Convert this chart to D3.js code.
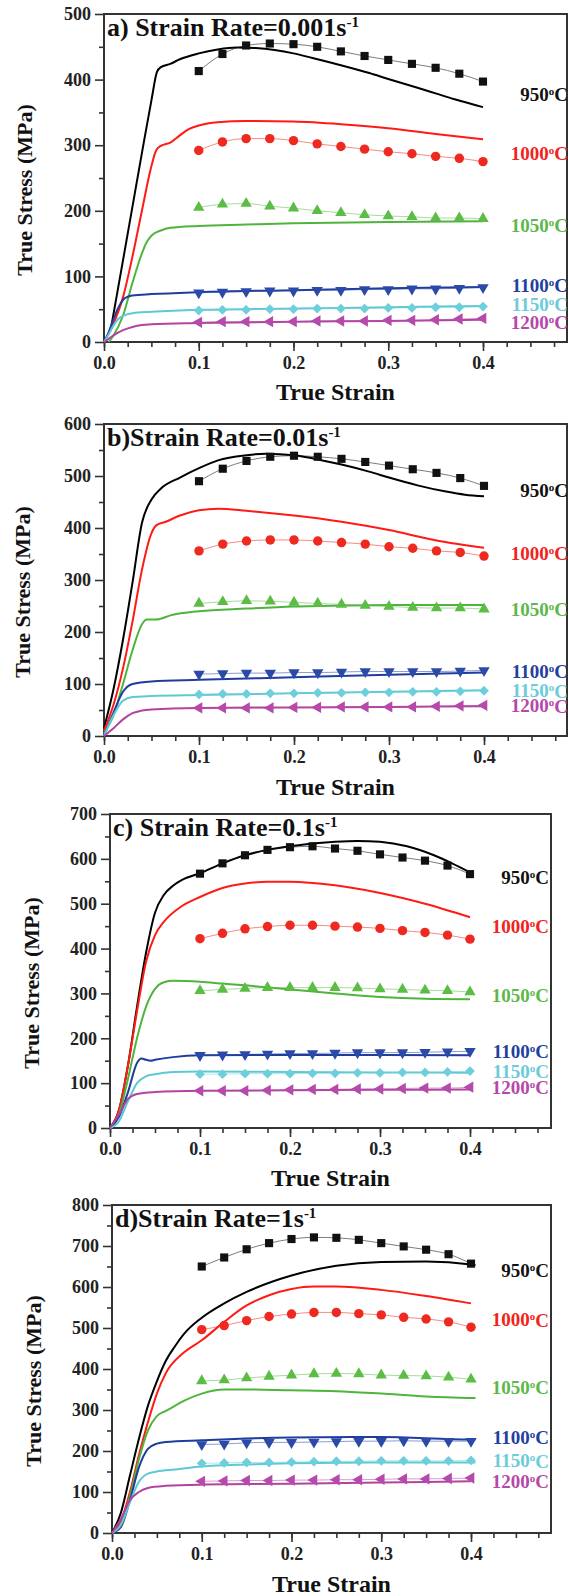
<!DOCTYPE html>
<html>
<head>
<meta charset="utf-8">
<script src="https://cdn.jsdelivr.net/npm/d3@7"></script>
<style>
  body { margin: 0; background: #fff; }
  svg { display: block; }
  text { font-family: "Liberation Serif", "Times New Roman", serif; font-weight: bold; }
</style>
</head>
<body>
<svg width="568" height="1596"></svg>
<script>
const temps = ["950", "1000", "1050", "1100", "1150", "1200"];
const lineColors = ["#000000", "#ff1a14", "#4fb43c", "#1f3d9e", "#5ec9d6", "#b2449f"];
const markColors = ["#111111", "#ee2a20", "#5cbd45", "#2b4aa8", "#6dcfdb", "#b54aaa"];
const labelColors = ["#111111", "#f0241c", "#5cb84a", "#233f9e", "#6ccbd8", "#b548a8"];
const rates = ["0.001", "0.01", "0.1", "1"];

// experimental strains
const expStrain = [0.1, 0.125, 0.15, 0.175, 0.2, 0.225, 0.25, 0.275, 0.3, 0.325, 0.35, 0.375, 0.4];

// a) 0.001 s-1
const expA = [
  [413, 439, 452, 455, 454, 450, 443, 436, 430, 424, 418, 409, 397],
  [292, 305, 310, 310, 307, 302, 298, 294, 290, 287, 283, 280, 275],
  [205, 210, 211, 207, 204, 200, 197, 194, 192, 191, 189, 189, 188],
  [75, 76, 77, 78, 78, 79, 79, 80, 80, 81, 81, 82, 83],
  [48, 49, 49, 50, 50, 51, 51, 51, 52, 52, 53, 53, 54],
  [30, 31, 31, 31, 31, 32, 32, 32, 33, 33, 34, 35, 36]
];
const simA = [
  [[0.008, 26], [0.02, 124], [0.03, 206], [0.04, 288], [0.05, 368], [0.056, 412], [0.06, 419], [0.07, 424], [0.08, 431], [0.1, 440], [0.12, 446], [0.14, 449], [0.16, 448], [0.18, 445], [0.2, 440], [0.22, 433], [0.25, 422], [0.28, 410], [0.3, 401], [0.33, 388], [0.35, 379], [0.37, 370], [0.4, 358]],
  [[0, 0], [0.01, 28], [0.02, 68], [0.03, 130], [0.04, 200], [0.05, 268], [0.055, 292], [0.06, 299], [0.07, 304], [0.08, 315], [0.09, 325], [0.1, 330], [0.12, 335], [0.15, 337], [0.2, 336], [0.25, 332], [0.3, 326], [0.35, 317], [0.4, 309]],
  [[0.005, 0], [0.01, 10], [0.02, 40], [0.03, 90], [0.04, 135], [0.045, 152], [0.05, 162], [0.06, 170], [0.07, 174], [0.1, 177], [0.15, 179], [0.2, 181], [0.3, 183], [0.4, 184]],
  [[0, 0], [0.005, 15], [0.01, 35], [0.015, 52], [0.02, 64], [0.025, 69], [0.03, 71], [0.05, 73], [0.1, 76], [0.2, 79], [0.3, 82], [0.4, 84]],
  [[0, 0], [0.005, 12], [0.01, 25], [0.015, 35], [0.02, 40], [0.03, 44], [0.05, 46], [0.1, 49], [0.2, 51], [0.3, 53], [0.4, 55]],
  [[0, 0], [0.005, 5], [0.01, 10], [0.02, 18], [0.03, 23], [0.04, 26], [0.05, 27], [0.1, 29], [0.2, 31], [0.3, 32], [0.4, 34]]
];

// b) 0.01 s-1
const expB = [
  [490, 514, 529, 537, 539, 537, 533, 527, 520, 513, 506, 496, 481],
  [356, 369, 375, 377, 377, 375, 372, 369, 364, 361, 356, 353, 346],
  [255, 258, 260, 259, 257, 255, 253, 251, 249, 247, 246, 246, 244],
  [119, 120, 121, 121, 122, 122, 123, 124, 124, 124, 124, 125, 126],
  [80, 81, 81, 82, 82, 83, 83, 84, 84, 85, 85, 86, 87],
  [54, 54, 54, 54, 55, 55, 56, 56, 56, 56, 57, 58, 59]
];
const simB = [
  [[0, 15], [0.01, 90], [0.02, 185], [0.03, 295], [0.04, 410], [0.05, 455], [0.06, 476], [0.08, 497], [0.1, 515], [0.12, 530], [0.15, 540], [0.17, 543], [0.2, 540], [0.23, 530], [0.25, 522], [0.28, 508], [0.3, 497], [0.33, 482], [0.36, 470], [0.38, 464], [0.4, 461]],
  [[0, 10], [0.01, 60], [0.02, 130], [0.03, 220], [0.04, 320], [0.05, 390], [0.055, 405], [0.065, 412], [0.08, 424], [0.1, 434], [0.12, 437], [0.15, 433], [0.2, 424], [0.25, 412], [0.3, 396], [0.35, 376], [0.4, 362]],
  [[0, 5], [0.01, 40], [0.02, 100], [0.03, 165], [0.04, 215], [0.045, 224], [0.055, 224], [0.07, 232], [0.1, 240], [0.15, 245], [0.2, 249], [0.25, 251], [0.3, 252], [0.4, 252]],
  [[0, 0], [0.01, 45], [0.02, 85], [0.03, 100], [0.05, 105], [0.1, 108], [0.2, 113], [0.3, 118], [0.4, 122]],
  [[0, 0], [0.01, 40], [0.02, 68], [0.03, 75], [0.05, 77], [0.1, 79], [0.2, 82], [0.3, 85], [0.4, 88]],
  [[0, 0], [0.01, 15], [0.02, 32], [0.03, 44], [0.04, 49], [0.05, 51], [0.1, 54], [0.2, 55], [0.3, 56], [0.4, 57]]
];

// c) 0.1 s-1
const expC = [
  [567, 590, 608, 620, 626, 628, 623, 618, 610, 603, 596, 585, 566],
  [422, 434, 444, 449, 452, 452, 450, 448, 445, 440, 436, 430, 421],
  [306, 309, 311, 313, 313, 313, 313, 312, 310, 309, 307, 306, 303],
  [162, 163, 164, 165, 166, 166, 167, 168, 168, 168, 169, 170, 171],
  [120, 120, 121, 121, 121, 122, 122, 123, 123, 124, 124, 125, 127],
  [83, 83, 83, 84, 85, 86, 86, 87, 87, 88, 89, 89, 91]
];
const simC = [
  [[0, 0], [0.01, 40], [0.02, 140], [0.03, 270], [0.04, 390], [0.05, 480], [0.06, 520], [0.07, 540], [0.08, 553], [0.1, 568], [0.125, 590], [0.15, 608], [0.175, 620], [0.2, 628], [0.25, 638], [0.275, 640], [0.3, 638], [0.33, 628], [0.36, 608], [0.38, 590], [0.4, 570]],
  [[0, 0], [0.01, 40], [0.02, 140], [0.03, 260], [0.04, 370], [0.05, 430], [0.06, 460], [0.08, 495], [0.1, 515], [0.125, 535], [0.15, 545], [0.175, 549], [0.2, 549], [0.25, 541], [0.3, 524], [0.35, 500], [0.4, 470]],
  [[0, 0], [0.01, 30], [0.02, 110], [0.03, 200], [0.04, 270], [0.05, 310], [0.06, 325], [0.07, 328], [0.1, 326], [0.125, 322], [0.15, 318], [0.2, 309], [0.25, 300], [0.3, 292], [0.35, 288], [0.4, 287]],
  [[0, 0], [0.01, 25], [0.02, 80], [0.03, 145], [0.035, 155], [0.04, 152], [0.045, 150], [0.05, 152], [0.07, 158], [0.1, 162], [0.2, 163], [0.3, 163], [0.4, 162]],
  [[0, 0], [0.01, 15], [0.02, 60], [0.03, 100], [0.04, 115], [0.05, 120], [0.07, 125], [0.1, 126], [0.2, 125], [0.3, 124], [0.4, 123]],
  [[0, 0], [0.01, 30], [0.02, 65], [0.03, 76], [0.05, 80], [0.1, 83], [0.2, 84], [0.3, 85], [0.4, 86]]
];

// d) 1 s-1
const expD = [
  [650, 672, 692, 707, 717, 721, 720, 715, 707, 699, 691, 680, 657],
  [496, 506, 518, 528, 534, 538, 538, 535, 532, 526, 522, 515, 502],
  [371, 373, 378, 382, 385, 388, 389, 388, 385, 384, 383, 380, 375],
  [216, 217, 220, 221, 221, 222, 223, 224, 224, 225, 224, 224, 224],
  [170, 171, 172, 172, 173, 174, 175, 175, 176, 176, 176, 176, 177],
  [126, 127, 128, 128, 129, 129, 130, 130, 131, 132, 132, 133, 134]
];
const simD = [
  [[0, 0], [0.01, 50], [0.02, 140], [0.03, 230], [0.04, 310], [0.05, 370], [0.06, 420], [0.07, 455], [0.08, 485], [0.1, 525], [0.125, 560], [0.15, 588], [0.2, 628], [0.25, 652], [0.3, 661], [0.35, 662], [0.4, 655], [0.405, 653]],
  [[0, 0], [0.01, 30], [0.02, 100], [0.03, 190], [0.04, 270], [0.05, 340], [0.06, 390], [0.08, 440], [0.1, 470], [0.125, 515], [0.15, 555], [0.175, 580], [0.2, 595], [0.225, 601], [0.25, 601], [0.3, 593], [0.35, 578], [0.4, 560]],
  [[0, 0], [0.01, 20], [0.02, 90], [0.03, 180], [0.04, 250], [0.05, 285], [0.06, 298], [0.07, 310], [0.08, 322], [0.1, 340], [0.125, 350], [0.15, 350], [0.2, 348], [0.25, 346], [0.3, 340], [0.35, 333], [0.405, 329]],
  [[0, 0], [0.01, 15], [0.02, 80], [0.03, 160], [0.04, 205], [0.05, 218], [0.06, 222], [0.1, 226], [0.2, 233], [0.3, 234], [0.4, 228], [0.405, 228]],
  [[0, 0], [0.01, 20], [0.02, 75], [0.03, 125], [0.04, 145], [0.05, 150], [0.07, 155], [0.1, 162], [0.15, 167], [0.2, 170], [0.3, 172], [0.405, 172]],
  [[0, 0], [0.01, 35], [0.02, 80], [0.03, 100], [0.04, 110], [0.06, 115], [0.1, 118], [0.2, 120], [0.3, 123], [0.4, 126]]
];

// label heights (in MPa) for the temperature tags
const tagA = [378, 288, 178, 86, 57, 30];
const tagB = [473, 351, 244, 125, 87, 58];
const tagC = [559, 450, 296, 171, 127, 90];
const tagD = [640, 520, 355, 233, 176, 126];

const panels = [
  { letter: "a) ", rate: rates[0], exp: expA, sim: simA, tag: tagA, yMax: 500, left: 104, right: 567, top: 14, bottom: 342, x4: 483, tagX: 568, ytX: 24, xtY: 392 },
  { letter: "b)", rate: rates[1], exp: expB, sim: simB, tag: tagB, yMax: 600, left: 104, right: 567, top: 424, bottom: 736, x4: 484, tagX: 568, ytX: 22, xtY: 787 },
  { letter: "c) ", rate: rates[2], exp: expC, sim: simC, tag: tagC, yMax: 700, left: 110, right: 551, top: 814, bottom: 1128, x4: 470, tagX: 549, ytX: 31, xtY: 1178 },
  { letter: "d)", rate: rates[3], exp: expD, sim: simD, tag: tagD, yMax: 800, left: 112, right: 551, top: 1205, bottom: 1533, x4: 471, tagX: 549, ytX: 33, xtY: 1584 }
];

const symbols = [
  { type: d3.symbolSquare, size: 66, rot: 0 },
  { type: d3.symbolCircle, size: 70, rot: 0 },
  { type: d3.symbolTriangle, size: 56, rot: 0 },
  { type: d3.symbolTriangle, size: 56, rot: 180 },
  { type: d3.symbolSquare, size: 48, rot: 45 },
  { type: d3.symbolTriangle, size: 56, rot: -90 }
];

const svg = d3.select("svg");

panels.forEach(function (p) {
  const g = svg.append("g");
  const x = d3.scaleLinear().domain([0, 0.4]).range([p.left, p.x4]);
  const y = d3.scaleLinear().domain([0, p.yMax]).range([p.bottom, p.top]);
  const xEnd = x.invert(p.right);

  // axes
  const majorX = d3.range(0, xEnd, 0.1);
  const minorX = d3.range(0, xEnd, 0.025);
  g.append("g")
    .attr("transform", "translate(0," + p.bottom + ")")
    .call(d3.axisBottom(x).tickValues(minorX).tickSize(5).tickFormat(""))
    .call(a => a.select(".domain").remove())
    .selectAll("line").attr("stroke", "#333").attr("stroke-width", 1.6);
  g.append("g")
    .attr("transform", "translate(0," + p.bottom + ")")
    .call(d3.axisBottom(x).tickValues(majorX).tickSize(9).tickPadding(5).tickFormat(d3.format(".1f")))
    .call(a => a.select(".domain").remove())
    .call(a => a.selectAll("line").attr("stroke", "#333").attr("stroke-width", 1.6))
    .selectAll("text").attr("font-size", 18).attr("fill", "#222")
      .attr("font-family", "Liberation Serif").attr("font-weight", "bold");

  g.append("g")
    .attr("transform", "translate(" + p.left + ",0)")
    .call(d3.axisLeft(y).tickValues(d3.range(50, p.yMax, 100)).tickSize(5).tickFormat(""))
    .call(a => a.select(".domain").remove())
    .selectAll("line").attr("stroke", "#333").attr("stroke-width", 1.6);
  g.append("g")
    .attr("transform", "translate(" + p.left + ",0)")
    .call(d3.axisLeft(y).tickValues(d3.range(0, p.yMax + 1, 100)).tickSize(9).tickPadding(4))
    .call(a => a.select(".domain").remove())
    .call(a => a.selectAll("line").attr("stroke", "#333").attr("stroke-width", 1.6))
    .selectAll("text").attr("font-size", 18).attr("fill", "#222")
      .attr("font-family", "Liberation Serif").attr("font-weight", "bold");

  // frame
  g.append("rect")
    .attr("x", p.left).attr("y", p.top)
    .attr("width", p.right - p.left).attr("height", p.bottom - p.top)
    .attr("fill", "none").attr("stroke", "#333").attr("stroke-width", 2);

  const simLine = d3.line()
    .x(d => x(d[0])).y(d => y(d[1]))
    .curve(d3.curveMonotoneX);
  const expLine = d3.line()
    .x((d, i) => x(expStrain[i])).y(d => y(d))
    .curve(d3.curveMonotoneX);

  p.sim.forEach(function (s, k) {
    g.append("path").attr("d", simLine(s))
      .attr("fill", "none").attr("stroke", lineColors[k]).attr("stroke-width", 2);
  });

  p.exp.forEach(function (e, k) {
    g.append("path").attr("d", expLine(e))
      .attr("fill", "none").attr("stroke", markColors[k])
      .attr("stroke-opacity", 0.55).attr("stroke-width", 1);
    const sym = symbols[k];
    g.selectAll(null).data(e).enter().append("path")
      .attr("d", d3.symbol().type(sym.type).size(sym.size))
      .attr("transform", (d, i) => "translate(" + x(expStrain[i]) + "," + y(d) + ") rotate(" + sym.rot + ")")
      .attr("fill", markColors[k]);
  });

  // temperature tags
  p.tag.forEach(function (t, k) {
    const tx = g.append("text")
      .attr("x", p.tagX).attr("y", y(t))
      .attr("dy", "0.35em")
      .attr("text-anchor", "end")
      .attr("font-size", 19)
      .attr("fill", labelColors[k])
      .text(temps[k]);
    tx.append("tspan").attr("font-size", 11).attr("dy", "-0.55em").text("o");
    tx.append("tspan").attr("dy", "0.33em").attr("font-size", 19).text("C");
  });

  // title
  const title = g.append("text")
    .attr("x", p.left + 3).attr("y", p.top + 22)
    .attr("font-size", 26).attr("fill", "#111")
    .text(p.letter + "Strain Rate=" + p.rate + "s");
  title.append("tspan").attr("font-size", 15).attr("dy", "-0.6em").text("-1");

  // axis titles
  g.append("text")
    .attr("transform", "translate(" + p.ytX + "," + ((p.top + p.bottom) / 2 + 12) + ") rotate(-90)")
    .attr("text-anchor", "middle").attr("dominant-baseline", "central")
    .attr("font-size", 22).attr("fill", "#111")
    .text("True Stress (MPa)");
  g.append("text")
    .attr("x", (p.left + p.right) / 2).attr("y", p.xtY)
    .attr("text-anchor", "middle").attr("dominant-baseline", "central")
    .attr("font-size", 24).attr("fill", "#111")
    .text("True Strain");
});
</script>
</body>
</html>
